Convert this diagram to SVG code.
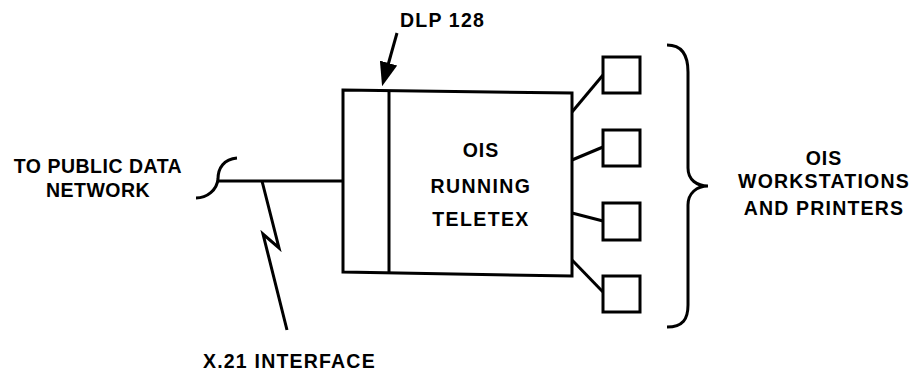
<svg xmlns="http://www.w3.org/2000/svg" width="919" height="373" viewBox="0 0 919 373">
<style>
  .ln { fill: none; stroke: #000; stroke-width: 3; stroke-linejoin: miter; stroke-linecap: butt; }
  .t { font-family: "Liberation Sans", Arial, sans-serif; font-weight: bold; font-size: 19.5px; fill: #000; }
</style>
<defs>
  <marker id="ah" viewBox="0 0 24 18" refX="1" refY="9" markerWidth="24" markerHeight="18" markerUnits="userSpaceOnUse" orient="auto">
    <path d="M0,0 L24,9 L0,18 Z" fill="#000"/>
  </marker>
</defs>
<rect width="919" height="373" fill="#fff"/>

<g id="ois-box">
  <path class="ln" d="M343,90 L572,93 L572,276 L343,272 Z"/>
  <line class="ln" x1="389" y1="90" x2="389" y2="273"/>
  <text class="t" x="481" y="157" text-anchor="middle" letter-spacing="1">OIS</text>
  <text class="t" x="481" y="193" text-anchor="middle" letter-spacing="1.4">RUNNING</text>
  <text class="t" x="481" y="226" text-anchor="middle" letter-spacing="1.4">TELETEX</text>
</g>

<g id="ws1"><rect class="ln" x="603" y="57" width="37" height="36"/></g>
<g id="ws2"><rect class="ln" x="603" y="130" width="37" height="36"/></g>
<g id="ws3"><rect class="ln" x="603" y="203" width="37" height="37"/></g>
<g id="ws4"><rect class="ln" x="603" y="276" width="37" height="36"/></g>

<g id="brace-label">
  <path class="ln" d="M667,45 C683,45 688,56 688,72 L688,168 C688,180 697,186 708,186 C697,186 688,193 688,205 L688,305 C688,319 683,327 667,327"/>
  <text class="t" x="824" y="165" text-anchor="middle" letter-spacing="1">OIS</text>
  <text class="t" x="824" y="188" text-anchor="middle" letter-spacing="1.2">WORKSTATIONS</text>
  <text class="t" x="824" y="215" text-anchor="middle" letter-spacing="1.2">AND PRINTERS</text>
</g>

<g id="network-label">
  <text class="t" x="98" y="173" text-anchor="middle" letter-spacing="0.5">TO PUBLIC DATA</text>
  <text class="t" x="98" y="197" text-anchor="middle" letter-spacing="0.5">NETWORK</text>
</g>

<g id="dlp-label">
  <text class="t" x="400" y="27" letter-spacing="1.2">DLP 128</text>
</g>

<g id="x21-label">
  <text class="t" x="203" y="368" letter-spacing="1.2">X.21 INTERFACE</text>
</g>

<g id="connectors">
  <path class="ln" d="M237,158 C224,159 218,168 218,179 C217,190 207,198 196,198"/>
  <line class="ln" x1="218" y1="181" x2="343" y2="181"/>
  <path class="ln" d="M262,181 L279,248 L263,234 L287,330"/>
  <line class="ln" x1="397" y1="33" x2="388.3" y2="64" marker-end="url(#ah)"/>
  <line class="ln" x1="572" y1="112" x2="603" y2="75"/>
  <line class="ln" x1="572" y1="160" x2="603" y2="147"/>
  <line class="ln" x1="572" y1="213" x2="603" y2="221"/>
  <line class="ln" x1="572" y1="260" x2="603" y2="292"/>
</g>
</svg>
